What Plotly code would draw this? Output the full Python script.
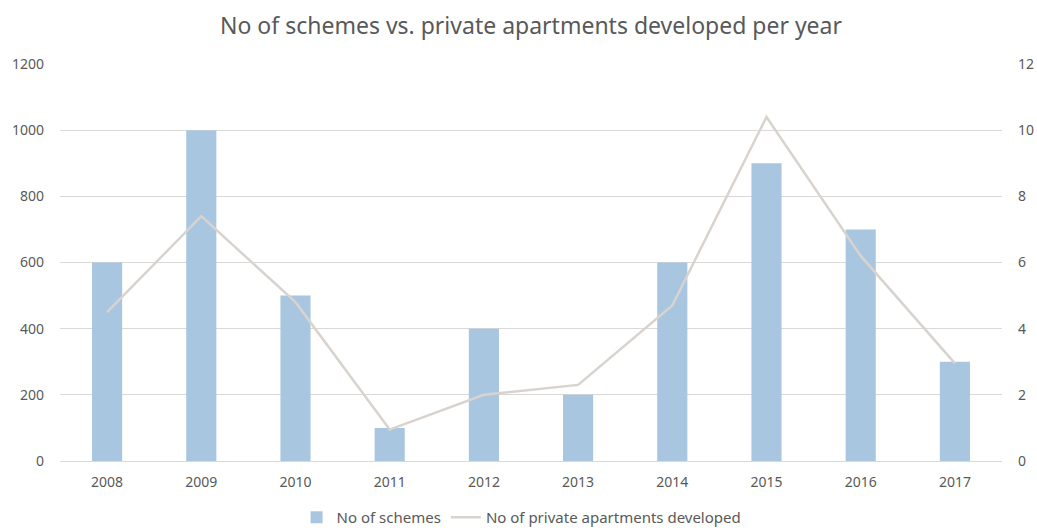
import plotly.graph_objects as go

years = ["2008", "2009", "2010", "2011", "2012", "2013", "2014", "2015", "2016", "2017"]
schemes = [6, 10, 5, 1, 4, 2, 6, 9, 7, 3]
apartments = [450, 740, 480, 95, 200, 230, 470, 1040, 620, 295]

font_family = "Noto Sans, Open Sans, sans-serif"
tick_color = "#595959"

fig = go.Figure()
fig.add_trace(go.Bar(
    x=years, y=schemes, name="No of schemes",
    marker=dict(color="#a9c6e0", line=dict(width=0)),
    yaxis="y",
))
fig.add_trace(go.Scatter(
    x=years, y=apartments, name="No of private apartments developed",
    mode="lines", line=dict(color="#d8d3cf", width=2.5),
    yaxis="y2",
))

fig.update_layout(
    width=1037, height=528,
    margin=dict(l=60, r=35, t=64, b=67),
    paper_bgcolor="white", plot_bgcolor="white",
    font=dict(family=font_family, size=14, color=tick_color),
    title=dict(
        text="No of schemes vs. private apartments developed per year",
        xref="paper", x=0.5, xanchor="center", y=0.95, yanchor="middle",
        font=dict(size=23, color="#595959", family=font_family),
    ),
    bargap=0.68,
    showlegend=True,
    legend=dict(
        orientation="h", x=0.49, xanchor="center",
        yref="container", y=0.02, yanchor="middle",
        font=dict(size=15, color=tick_color),
    ),
    xaxis=dict(
        type="category", showgrid=False, showline=True,
        linecolor="#d9d9d9", linewidth=1, ticks="",
        ticklabelstandoff=8, automargin=False,
        tickfont=dict(size=14, color=tick_color),
    ),
    yaxis=dict(
        range=[0, 12], dtick=2, side="right",
        showgrid=True, gridcolor="#d9d9d9", gridwidth=1,
        zeroline=False, showline=False, ticks="",
        ticklabelstandoff=15, automargin=False,
        tickfont=dict(size=14, color=tick_color),
    ),
    yaxis2=dict(
        range=[0, 1200], dtick=200, side="left", overlaying="y",
        showgrid=False, zeroline=False, showline=False, ticks="",
        ticklabelstandoff=15, automargin=False,
        tickfont=dict(size=14, color=tick_color),
    ),
)

fig.write_html("out.html")
